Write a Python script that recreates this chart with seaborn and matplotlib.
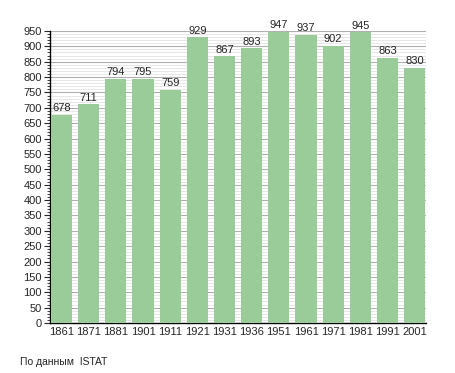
import pandas as pd
import seaborn as sns
import matplotlib.pyplot as plt
from matplotlib.ticker import MultipleLocator

# Census years and population
years = ['1861', '1871', '1881', '1901', '1911', '1921', '1931',
         '1936', '1951', '1961', '1971', '1981', '1991', '2001']
population = [678, 711, 794, 795, 759, 929, 867, 893, 947, 937, 902, 945, 863, 830]

df = pd.DataFrame({'year': years, 'pop': population})

sns.set_style('white')
plt.rcParams['font.family'] = ['Liberation Sans', 'DejaVu Sans']

fig = plt.figure(figsize=(4.55, 3.73), dpi=100)
ax = fig.add_axes([0.11, 0.134, 0.826, 0.783])

sns.barplot(x='year', y='pop', data=df, color='#99cc99', width=0.78,
            saturation=1, linewidth=0, edgecolor='none', ax=ax, zorder=3)

for i, v in enumerate(population):
    ax.text(i, v + 6, str(v), ha='center', va='bottom', fontsize=8, zorder=4)

ax.set_ylim(0, 950)
ax.set_xlim(-0.42, 13.41)
ax.yaxis.set_major_locator(MultipleLocator(50))
ax.yaxis.set_minor_locator(MultipleLocator(10))
ax.grid(axis='y', which='major', color='#b0b0b0', linewidth=0.8, zorder=0)
ax.grid(axis='y', which='minor', color='#e3e3e3', linewidth=0.6, zorder=0)
ax.tick_params(axis='y', which='major', length=4, width=0.8, labelsize=8, pad=2, left=True)
ax.tick_params(axis='y', which='minor', length=2, width=0.6, left=True)
ax.tick_params(axis='x', length=0, labelsize=8, pad=3)

for s in ['top', 'right']:
    ax.spines[s].set_visible(False)
for s in ['left', 'bottom']:
    ax.spines[s].set_color('black')
    ax.spines[s].set_linewidth(1)

ax.set_xlabel('')
ax.set_ylabel('')

fig.text(20 / 455, 1 - 362 / 373, 'По данным  ISTAT', fontsize=7.5, va='center', ha='left')

fig.savefig('out.png', dpi=100)
